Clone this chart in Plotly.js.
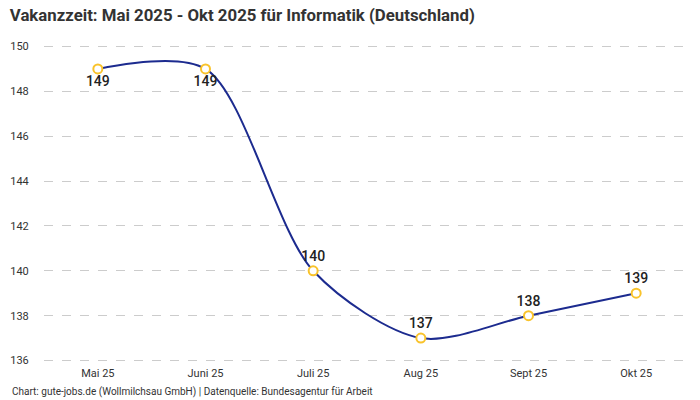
<!DOCTYPE html>
<html><head><meta charset="utf-8">
<script src="https://cdn.plot.ly/plotly-3.0.1.min.js"></script>
<style>body{margin:0;padding:0;}#c{width:700px;height:400px;}</style>
</head><body><div id="c"></div>
<script>
const months = ["Mai 25", "Juni 25", "Juli 25", "Aug 25", "Sept 25", "Okt 25"];
const vakanzzeit = [149, 149, 140, 137, 138, 139];
const labelPos = ["bottom center", "bottom center", "top center", "top center", "top center", "top center"];
const yTicks = [136, 138, 140, 142, 144, 146, 148, 150];

const trace = {
  x: months, y: vakanzzeit, type: "scatter", mode: "lines+markers+text",
  line: {color: "#1c2b8f", width: 2, shape: "spline", smoothing: 0.85},
  marker: {size: 9, color: "#ffffff", line: {color: "#f9c32b", width: 2}},
  text: vakanzzeit.map(String), textposition: labelPos,
  textfont: {family: "Roboto, sans-serif", size: 14, color: "#222", weight: 500},
  cliponaxis: false, hoverinfo: "skip"
};
const layout = {
  width: 700, height: 400,
  margin: {l: 44, r: 10, t: 41.5, b: 34.5},
  paper_bgcolor: "#fff", plot_bgcolor: "#fff",
  font: {family: "Roboto, sans-serif", color: "#333"},
  showlegend: false,
  title: {text: "<b>Vakanzzeit: Mai 2025 - Okt 2025 für Informatik (Deutschland)</b>",
    x: 0.014, xanchor: "left", y: 0.978, yanchor: "top",
    font: {family: "Roboto, sans-serif", size: 16.8, color: "#333"}},
  xaxis: {type: "category", range: [-0.5, 5.5], showgrid: false, zeroline: false, showline: false,
    ticks: "", tickfont: {size: 11, color: "#333"}, fixedrange: true},
  yaxis: {range: [135.8, 150.2], tickvals: yTicks, ticktext: yTicks.map(String),
    showgrid: true, gridcolor: "#cccccc", griddash: "dash", gridwidth: 1,
    zeroline: false, showline: false, ticks: "outside", ticklen: 12, tickcolor: "rgba(0,0,0,0)",
    tickfont: {size: 11, color: "#333"}, fixedrange: true},
  annotations: [{text: "Chart: gute-jobs.de (Wollmilchsau GmbH) | Datenquelle: Bundesagentur für Arbeit",
    xref: "paper", yref: "paper", x: -0.052, y: -0.085, xanchor: "left", yanchor: "middle",
    showarrow: false, font: {size: 10, color: "#333"}}]
};
Plotly.newPlot("c", [trace], layout, {displayModeBar: false, staticPlot: true});
</script></body></html>
